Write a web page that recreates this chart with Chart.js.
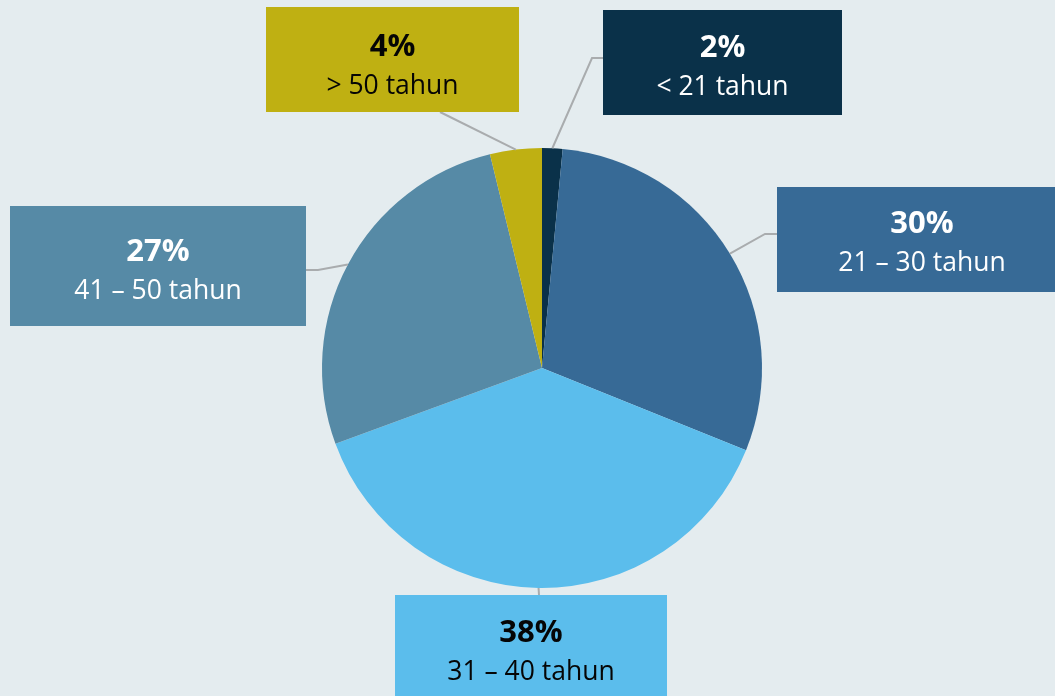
<!DOCTYPE html>
<html><head><meta charset="utf-8">
<script src="https://cdn.jsdelivr.net/npm/chart.js@4.4.1/dist/chart.umd.min.js"></script>
<style>
html,body{margin:0;padding:0;background:#e4ecef;}
#wrap{width:1055px;height:696px;position:relative;}
</style></head>
<body><div id="wrap"><canvas id="c" width="1055" height="696"></canvas></div>
<script>
const categories = ['< 21 tahun', '21 – 30 tahun', '31 – 40 tahun', '41 – 50 tahun', '> 50 tahun'];
const values = [1.5, 29.6, 38.3, 26.8, 3.8];
const percentLabels = ['2%', '30%', '38%', '27%', '4%'];
const colors = ['#0a3149', '#376a96', '#5bbdec', '#568aa6', '#bfb012'];
const textColors = ['#ffffff', '#ffffff', '#050505', '#ffffff', '#050505'];

// label box layout (annotation geometry, not data)
const boxes = [
  {x:603, y:10,  w:239, h:105, ty:48,  elbow:[[592,58],[603,58]]},
  {x:777, y:187, w:290, h:105, ty:224, elbow:[[765,234],[777,234]]},
  {x:395, y:595, w:272, h:110, ty:633, elbow:[[539,595]]},
  {x:10,  y:206, w:296, h:120, ty:252, elbow:[[318,270],[306,270]]},
  {x:266, y:7,   w:253, h:105, ty:47,  elbow:[[440,112]]}
];

const labelPlugin = {
  id: 'boxLabels',
  afterDatasetsDraw(chart) {
    const ctx = chart.ctx;
    const meta = chart.getDatasetMeta(0);
    meta.data.forEach((arc, i) => {
      const b = boxes[i];
      const mid = (arc.startAngle + arc.endAngle) / 2;
      const sx = arc.x + Math.cos(mid) * arc.outerRadius;
      const sy = arc.y + Math.sin(mid) * arc.outerRadius;
      ctx.save();
      ctx.strokeStyle = '#a9acae';
      ctx.lineWidth = 2;
      ctx.beginPath();
      ctx.moveTo(sx, sy);
      b.elbow.forEach(p => ctx.lineTo(p[0], p[1]));
      ctx.stroke();
      ctx.fillStyle = colors[i];
      ctx.fillRect(b.x, b.y, b.w, b.h);
      ctx.fillStyle = textColors[i];
      ctx.textAlign = 'center';
      ctx.textBaseline = 'middle';
      const cx = b.x + b.w / 2;
      ctx.font = 'bold 31px "Open Sans", "Noto Sans", sans-serif';
      ctx.fillText(percentLabels[i], cx, b.ty);
      ctx.font = '26.5px "Open Sans", "Noto Sans", sans-serif';
      ctx.fillText(categories[i], cx, b.ty + 39);
      ctx.restore();
    });
  }
};

new Chart(document.getElementById('c'), {
  type: 'pie',
  data: {
    labels: categories,
    datasets: [{
      data: values,
      backgroundColor: colors,
      borderWidth: 0
    }]
  },
  options: {
    responsive: false,
    animation: false,
    layout: { padding: { left: 322, right: 293, top: 148, bottom: 108 } },
    plugins: { legend: { display: false }, tooltip: { enabled: false } }
  },
  plugins: [labelPlugin]
});
</script>
</body></html>
